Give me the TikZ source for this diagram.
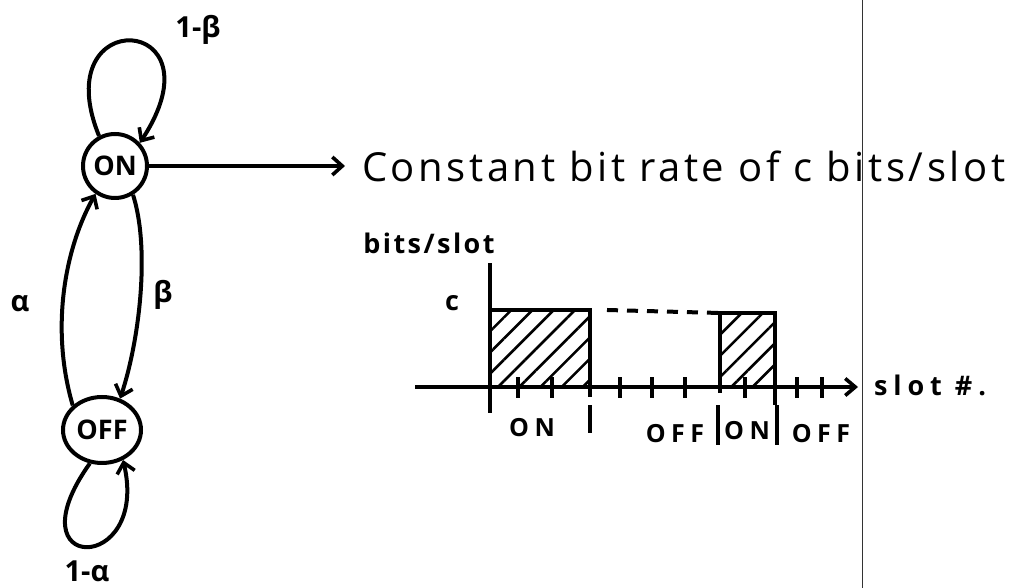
\documentclass[tikz,border=0pt]{standalone}
\usepackage{fontspec}
\setmainfont{Open Sans}
\newfontfamily\spaced[LetterSpace=22]{Open Sans}
\newfontfamily\wide[LetterSpace=9]{Open Sans}
\usepackage{xcolor}
\usetikzlibrary{positioning,arrows.meta,shapes.geometric,patterns.meta}
\definecolor{ink}{HTML}{000000}
\definecolor{rule}{HTML}{333333}
\tikzset{
  state/.style    = {draw=ink, line width=4pt, font=\fontsize{27}{29}\selectfont\bfseries, inner sep=0pt},
  onstate/.style  = {state, circle, minimum size=64pt},
  offstate/.style = {state, ellipse, minimum width=78pt, minimum height=66pt},
  trans/.style    = {draw=ink, line width=4pt, -{Straight Barb[length=10pt,width=18pt,line width=3.6pt]}},
  hand/.style     = {font=\fontsize{40}{44}\selectfont\wide, text=ink, inner sep=0pt, outer sep=0pt},
  greek/.style    = {font=\fontsize{29}{32}\selectfont\bfseries, text=ink, inner sep=0pt, outer sep=0pt},
  slotlab/.style  = {font=\fontsize{25}{28}\selectfont\spaced\bfseries, text=ink, inner sep=0pt, outer sep=0pt},
  axislab/.style  = {font=\fontsize{27}{30}\selectfont\wide\bfseries, text=ink, inner sep=0pt, outer sep=0pt},
  axis/.style     = {draw=ink, line width=4pt},
  tickmark/.style = {draw=ink, line width=4pt},
  burst/.style    = {draw=ink, line width=4pt, anchor=south west, inner sep=0pt, outer sep=0pt,
                     pattern={Lines[angle=45,distance=15pt,line width=2.6pt]}, pattern color=ink},
  gap/.style      = {draw=ink, line width=4pt, dash pattern=on 11pt off 9pt},
}

\begin{document}
\begin{tikzpicture}[x=1pt,y=1pt]
\path[use as bounding box] (0,0) rectangle (1018,588);

% ---- two-state chain -----------------------------------------------------
\node[onstate]  (on)  at (115,422) {ON};
\node[offstate] (off) at (102,158) {OFF};

\draw[trans] (on.118) .. controls (45,585) and (225,575) .. (on.43);
\node[greek] (stayon) at (198,558) {1-β};

\draw[trans] (off.250) .. controls (10,13) and (150,13) .. (off.305);
\node[greek] (stayoff) at (87,17) {1-α};

\draw[trans] (off.140) .. controls (50,260) and (65,340) .. (on.235);
\node[greek] (alpha) at (20,284) {α};

\draw[trans] (on.302) .. controls (150,340) and (140,250) .. (off.60);
\node[greek] (beta) at (163,293) {β};

% ---- output ----------------------------------------------------------------
\coordinate (cbr) at (345,422);
\draw[trans] (on) -- (cbr);
\node[hand, anchor=west, right=17pt of cbr] (cbrtext) {Constant bit rate of c bits/slot};

% ---- slot chart ------------------------------------------------------------
\node[axislab] (ylab) at (429,345) {bits/slot};
\node[axislab] (clab) at (452,285) {c};

\node[burst, minimum width=100pt, minimum height=77pt] (on1) at (490,201) {};
\node[burst, minimum width=55pt,  minimum height=74pt] (on2) at (720,201) {};
\draw[gap] ([xshift=17pt]on1.north east) -- (on2.north west);

\coordinate (xstart) at (415,201);
\coordinate (xend)   at (858,201);
\draw[axis, -{Straight Barb[length=10pt,width=17pt,line width=3.6pt]}] (xstart) -- (xend);
\draw[axis] (490,175) -- (490,325);

\foreach \tx in {518,552,620,652,685,745,797,822}{ \draw[tickmark] (\tx,190) -- (\tx,211); }
\draw[tickmark] (590,191) -- (590,201);
\draw[tickmark] (720,195) -- (720,201);
\draw[tickmark] (775,183) -- (775,201);

\foreach \sx/\sy in {590/155,718/143,777/143}{ \draw[tickmark] (\sx,\sy) -- (\sx,183); }

\node[slotlab] (lon1)  at (532,160) {ON};
\node[slotlab] (loff1) at (675,154) {OFF};
\node[slotlab] (lon2)  at (747,157) {ON};
\node[slotlab] (loff2) at (821,154) {OFF};
\node[slotlab, font=\fontsize{27}{30}\selectfont\spaced\bfseries] (xlab) at (930,203) {slot \#.};

% ---- page rule -------------------------------------------------------------
\draw[rule, line width=1.5pt] (862.7,0) -- (862.7,588);

\end{tikzpicture}
\end{document}
